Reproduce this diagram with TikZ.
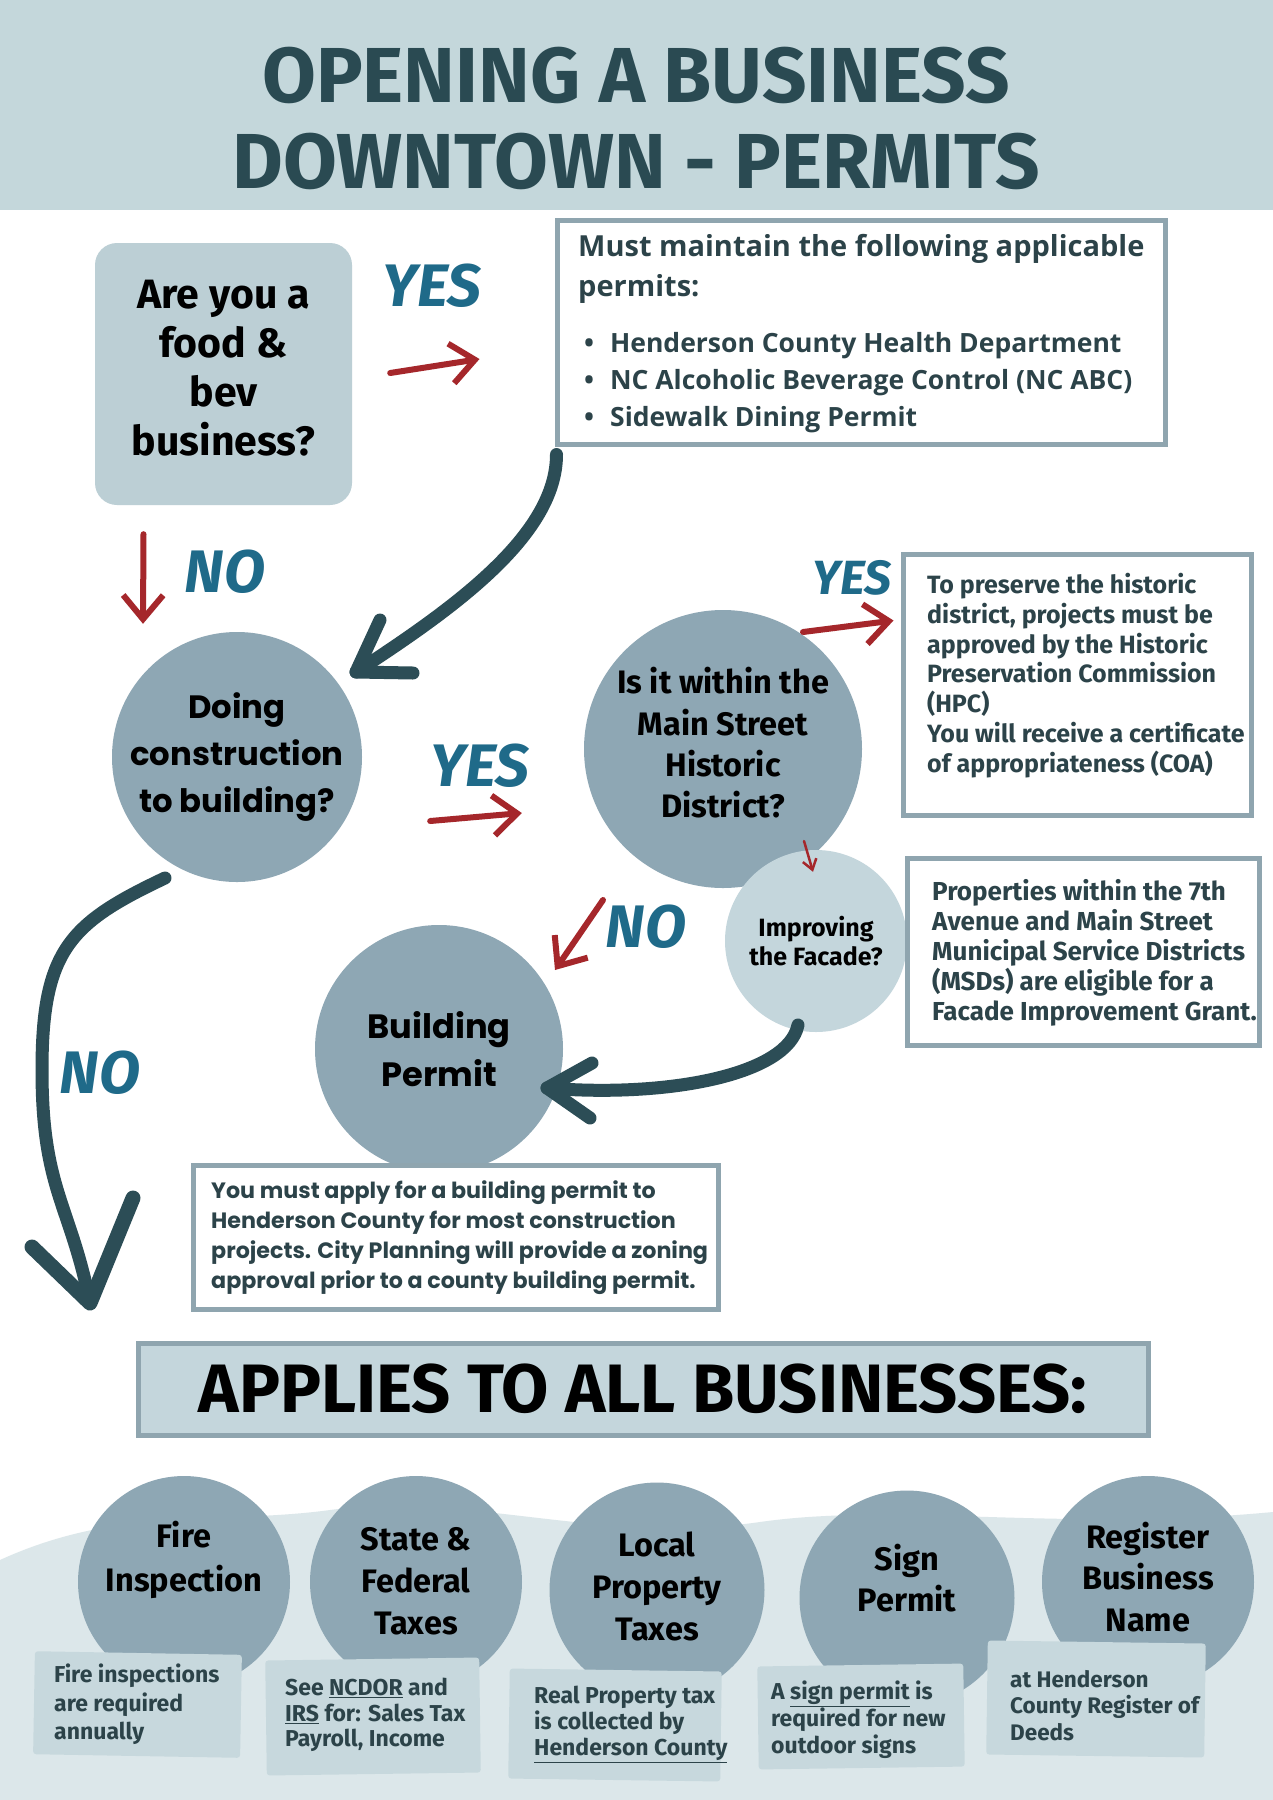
\documentclass[tikz,border=0pt]{standalone}
\usepackage{fontspec}
\setmainfont{Fira Sans}
\newfontfamily\osans{Open Sans}
\newfontfamily\geo{Poppins}
\usetikzlibrary{arrows.meta,calc}
\definecolor{band}{HTML}{C4D7DB}
\definecolor{titlec}{HTML}{2A4A52}
\definecolor{box1c}{HTML}{BCCFD5}
\definecolor{circc}{HTML}{8EA7B4}
\definecolor{lightc}{HTML}{C4D6DC}
\definecolor{bord}{HTML}{8FA5AF}
\definecolor{slate}{HTML}{2C4349}
\definecolor{dkarrow}{HTML}{2C4D56}
\definecolor{redc}{HTML}{A5272B}
\definecolor{yesno}{HTML}{1F6A89}
\definecolor{hill}{HTML}{DCE7EA}
\definecolor{bboxc}{HTML}{C7D8DD}
\newcommand{\fsz}[2]{\fontsize{#1pt}{#2pt}\selectfont}
\begin{document}
\begin{tikzpicture}[x=1pt,y=-1pt,
  circ/.style={circle, fill=circc, inner sep=0pt},
  wbox/.style={draw=bord, line width=5pt, fill=white, inner sep=0pt},
  txt/.style={inner sep=0pt, text=slate, align=left, anchor=north west},
  ctxt/.style={inner sep=0pt, text=black, align=center},
  brush/.style={draw=dkarrow, line width=13pt, line cap=round, line join=round},
  redarr/.style={draw=redc, line width=6pt, line cap=round, -{Straight Barb[length=24pt,width=40pt]}},
  yn/.style={inner sep=0pt, text=yesno, font=\bfseries\itshape\fsz{60}{60}},
  bbox/.style={fill=bboxc, inner sep=0pt, rounded corners=3pt}
]
\useasboundingbox (0,0) rectangle (1273,1800);
\fill[white] (0,0) rectangle (1273,1800);
% title band
\fill[band] (0,0) rectangle (1273,210);
\node[inner sep=0pt, text=titlec, align=center, font=\bfseries\fsz{78}{86}] (title) at (636,118) {OPENING A BUSINESS\\DOWNTOWN - PERMITS};

% bottom hills
\fill[hill] (0,1560) .. controls (120,1505) and (220,1525) .. (330,1510) .. controls (470,1492) and (600,1545) .. (760,1522) .. controls (900,1502) and (1060,1532) .. (1273,1512) -- (1273,1800) -- (0,1800) -- cycle;

% question 1
\node[fill=box1c, rounded corners=22pt, minimum width=257pt, minimum height=262pt, inner sep=0pt] (food) at (223.5,374) {};
\node[ctxt, font=\bfseries\fsz{41}{49}] (foodt) at ($(food.center)+(0,-6)$) {Are you a\\food \&\\bev\\business?};

% permits box
\node[wbox, minimum width=608pt, minimum height=224pt] (perm) at (861,332) {};
\node[txt, font=\osans\bfseries\fsz{29}{40}] (permh) at (578,234) {Must maintain the following applicable\\permits:};
\node[txt, font=\osans\bfseries\fsz{26.5}{37}] (perml) at (584,332) {\textbullet\hspace{16pt}Henderson County Health Department\\\textbullet\hspace{16pt}NC Alcoholic Beverage Control (NC ABC)\\\textbullet\hspace{16pt}Sidewalk Dining Permit};

% circles
\node[circ, minimum size=250pt, font=\geo\bfseries\fsz{32.3}{47}, text=black, align=center] (doing) at (237,757) {Doing\\construction\\to building?};
\node[circ, minimum size=278pt] (district) at (723,749) {};
\node[ctxt, font=\bfseries\fsz{32.5}{41.3}] (districtt) at ($(district.center)+(0,-6)$) {Is it within the\\Main Street\\Historic\\District?};
\node[circle, fill=lightc, inner sep=0pt, minimum size=182pt, font=\bfseries\fsz{25}{28.5}, text=black, align=center] (facade) at (816,941) {Improving\\the Facade?};
\node[circ, minimum size=248pt, font=\geo\bfseries\fsz{33.7}{48}, text=black, align=center] (bp) at (439,1049) {Building\\Permit};

% HPC box
\node[wbox, minimum width=348pt, minimum height=261pt] (hpc) at (1077,684.5) {};
\node[txt, font=\bfseries\fsz{25}{29.8}] (hpct) at (927,573) {To preserve the historic\\district, projects must be\\approved by the Historic\\Preservation Commission\\(HPC)\\You will receive a certificate\\of appropriateness (COA)};

% MSD box
\node[wbox, minimum width=352pt, minimum height=187pt] (msd) at (1083,951.5) {};
\node[txt, font=\bfseries\fsz{26}{30}] (msdt) at (932,879) {Properties within the 7th\\Avenue and Main Street\\Municipal Service Districts\\(MSDs) are eligible for a\\Facade Improvement Grant.};

% building permit box
\node[wbox, minimum width=525pt, minimum height=144pt] (bpbox) at (455.5,1237) {};
\node[txt, font=\geo\bfseries\fsz{22.2}{30}] (bpt) at (211,1180) {You must apply for a building permit to\\Henderson County for most construction\\projects. City Planning will provide a zoning\\approval prior to a county building permit.};

% dark arrows
\coordinate (aS) at ($(perm.south west)+(2,8)$);
\coordinate (aT) at ($(doing.center)+(119,-85)$);
\draw[brush] (aS) .. controls +(0,80) and +(100,-65) .. (aT);
\draw[brush] ($(aT)+(24,-52)$) -- (aT) -- ($(aT)+(57,1)$);

\coordinate (bS) at ($(doing.center)+(-72,121)$);
\coordinate (bM) at ($(doing.center)+(-195,313)$);
\coordinate (bT) at ($(doing.center)+(-147,546)$);
\draw[brush] (bS) .. controls +(-95,45) and +(0,-120) .. (bM) .. controls +(0,120) and +(-20,-100) .. (bT);
\draw[brush, line width=15pt] ($(bT)+(-58,-56)$) -- (bT) -- ($(bT)+(43,-105)$);

\coordinate (cS) at ($(facade.center)+(-18,84)$);
\coordinate (cT) at ($(bp.center)+(108,39)$);
\draw[brush] (cS) .. controls +(-10,50) and +(120,10) .. (cT);
\draw[brush] ($(cT)+(45,-25)$) -- (cT) -- ($(cT)+(43,30)$);

% red arrows
\draw[redarr] ($(food.east)+(38,-1)$) -- ($(perm.west)+(-75,27)$);
\draw[redarr] ($(food.south)+(-80,29)$) -- ($(doing.north)+(-94,-8)$);
\draw[redarr] ($(doing.east)+(68,64)$) -- ($(district.west)+(-62,64)$);
\draw[redarr] ($(district.center)+(80,-117)$) -- ($(hpc.west)+(-7,-64)$);
\draw[draw=redc, line width=2.5pt, line cap=round, -{Straight Barb[length=10pt,width=14pt]}] ($(district.center)+(81,92)$) -- ($(facade.north)+(-3,22)$);
\draw[redarr] ($(district.center)+(-120,151)$) -- ($(bp.center)+(116,-79)$);

% yes / no labels
\node[yn] (yes1) at (432,286) {YES};
\node[yn] (no1) at (225,572) {NO};
\node[yn] (yes2) at (480,766) {YES};
\node[yn, font=\bfseries\itshape\fsz{48}{48}] (yes3) at (852,578) {YES};
\node[yn] (no2) at (646,927) {NO};
\node[yn] (no3) at (100,1073) {NO};

% banner
\node[fill=lightc, draw=bord, line width=5pt, minimum width=1010pt, minimum height=92pt, inner sep=0pt, text=black, font=\bfseries\fsz{68.5}{70}] (all) at (643,1389) {APPLIES TO ALL BUSINESSES:};

% bottom circles
\node[circ, minimum size=212pt] (c1) at (184,1582) {};
\node[circ, minimum size=212pt] (c2) at (416,1582) {};
\node[circ, minimum size=215pt] (c3) at (657,1590) {};
\node[circ, minimum size=215pt] (c4) at (907,1598) {};
\node[circ, minimum size=212pt] (c5) at (1148,1582) {};
\node[ctxt, font=\bfseries\fsz{32.5}{44}] (c1t) at ($(c1)+(0,-22)$) {Fire\\Inspection};
\node[ctxt, font=\bfseries\fsz{32.5}{42}] (c2t) at ($(c2)+(0,-1)$) {State \&\\Federal\\Taxes};
\node[ctxt, font=\bfseries\fsz{32.5}{42}] (c3t) at ($(c3)+(0,-4)$) {Local\\Property\\Taxes};
\node[ctxt, font=\bfseries\fsz{32.5}{41}] (c4t) at ($(c4)+(0,-20)$) {Sign\\Permit};
\node[ctxt, font=\bfseries\fsz{32.5}{41.5}] (c5t) at ($(c5)+(0,-5)$) {Register\\Business\\Name};

% bottom boxes
\node[bbox, minimum width=207pt, minimum height=103pt, rotate=-1] (b1) at (137.5,1704.5) {};
\node[bbox, minimum width=214pt, minimum height=115pt, rotate=0.8] (b2) at (373,1716.5) {};
\node[bbox, minimum width=212pt, minimum height=110pt, rotate=-0.8] (b3) at (615,1725) {};
\node[bbox, minimum width=206pt, minimum height=103pt, rotate=0.8] (b4) at (861,1716.5) {};
\node[bbox, minimum width=218pt, minimum height=114pt, rotate=-0.8] (b5) at (1096,1699) {};
\node[txt, font=\bfseries\fsz{23}{28.5}] (b1t) at (54,1664) {Fire inspections\\are required\\annually};
\node[txt, font=\bfseries\fsz{23}{25.5}] (b2t) at (285,1678) {See \underline{NCDOR} and\\\underline{IRS} for: Sales Tax\\Payroll, Income};
\node[txt, font=\bfseries\fsz{23}{26}] (b3t) at (534,1686) {Real Property tax\\is collected by\\\underline{Henderson County}};
\node[txt, font=\bfseries\fsz{23}{27}] (b4t) at (771,1681) {A \underline{sign permit} is\\required for new\\outdoor signs};
\node[txt, font=\bfseries\fsz{22.5}{26.5}] (b5t) at (1010,1670) {at Henderson\\County Register of\\Deeds};
\end{tikzpicture}
\end{document}
